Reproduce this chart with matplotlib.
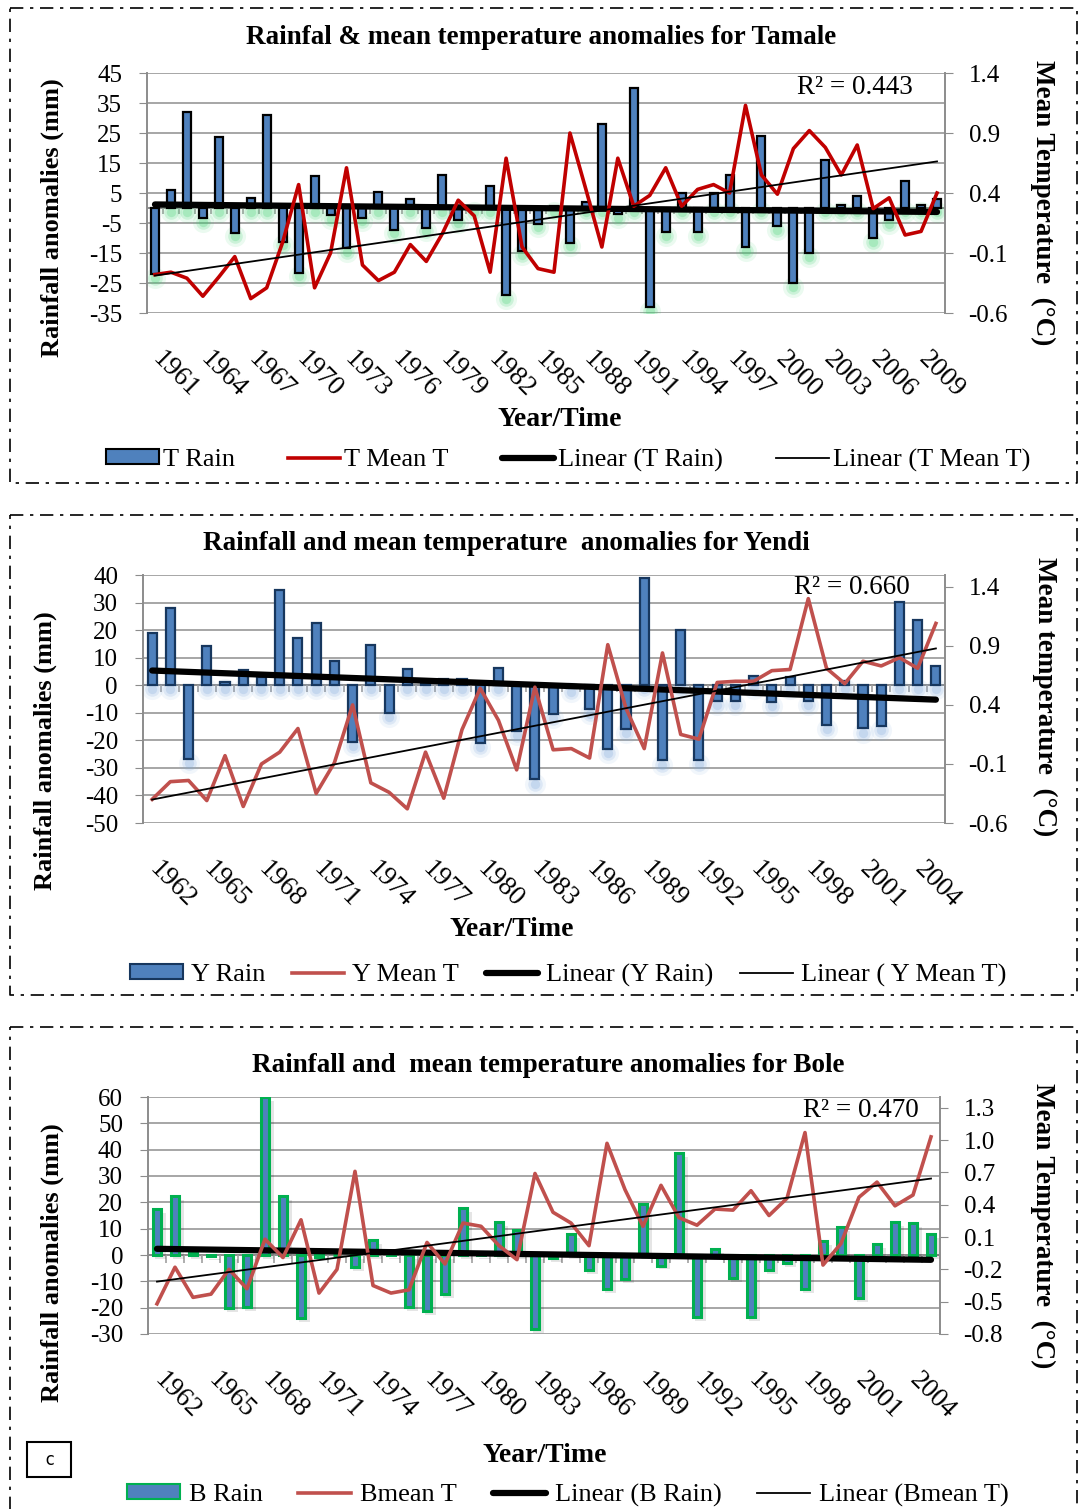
import numpy as np
import matplotlib
matplotlib.use("Agg")
import matplotlib.pyplot as plt
from matplotlib.lines import Line2D
from matplotlib.patches import Patch, Rectangle

plt.rcParams["font.family"] = ["Liberation Serif", "DejaVu Serif"]

W, H = 1078, 1509

# ---- data ----------------------------------------------------------------
tamale_years = list(range(1961, 2011))
tamale_rain = [-22, 6, 32, -3.4, 23.7, -8.2, 3.4, 31, -11.2, -21.6,
               10.7, -2.4, -13.4, -3.2, 5.3, -7.2, 3.1, -6.6, 10.9, -3.9,
               0.5, 7.3, -29, -14.3, -5.2, 0.8, -11.6, 2, 28, -2,
               40, -33, -8, 5, -8, 5, 11, -13, 24, -6,
               -25, -15, 16, 1, 4, -10, -4, 9, 1, 3]
tamale_temp = [-0.28, -0.26, -0.31, -0.46, -0.30, -0.13, -0.48, -0.39, -0.01, 0.47,
               -0.39, -0.10, 0.61, -0.20, -0.33, -0.26, -0.03, -0.17, 0.06, 0.34,
               0.21, -0.26, 0.69, -0.05, -0.23, -0.26, 0.90, 0.43, -0.05, 0.69,
               0.29, 0.38, 0.61, 0.29, 0.43, 0.47, 0.40, 1.13, 0.55, 0.39,
               0.77, 0.92, 0.78, 0.55, 0.80, 0.27, 0.36, 0.05, 0.08, 0.40]

yendi_years = list(range(1962, 2006))
yendi_rain = [19, 28, -26.7, 14.1, 1, 5.4, 3, 34.5, 17.2, 22.6,
              8.7, -20.6, 14.5, -10, 5.9, 0.5, 2.3, 2.3, -20.9, 6.3,
              -16.7, -34.2, -10.4, -1, -8.8, -23, -16, 39, -27.3, 20.2,
              -27, -5.8, -5.6, 3.3, -6.2, 2.9, -5.8, -14.5, 1.5, -15.7,
              -14.9, 30.2, 23.8, 6.9]
yendi_temp = [-0.40, -0.25, -0.24, -0.41, -0.03, -0.46, -0.10, 0.00, 0.20, -0.35,
              -0.09, 0.40, -0.26, -0.34, -0.48, 0.00, -0.39, 0.19, 0.54, 0.27,
              -0.15, 0.55, 0.02, 0.03, -0.05, 0.91, 0.37, 0.03, 0.84, 0.15,
              0.11, 0.59, 0.60, 0.60, 0.69, 0.70, 1.30, 0.71, 0.58, 0.77,
              0.73, 0.80, 0.71, 1.09]

bole_years = list(range(1962, 2006))
bole_rain = [17.5, 22.4, 1, -0.5, -20, -19.6, 60, 22.4, -23.8, -0.6,
             0, -4.7, 5.7, 0.4, -19.6, -21.1, -14.9, 17.7, 0.5, 12.4,
             9.5, -28.2, -1.3, 8, -5.7, -12.9, -9.1, 19.4, -4, 38.6,
             -23.4, 2.3, -8.6, -23.4, -5.8, -3.2, -12.9, 5.4, 10.8, -16.5,
             4.2, 12.7, 12.3, 8]
bole_temp = [-0.52, -0.18, -0.46, -0.43, -0.20, -0.38, 0.08, -0.09, 0.26, -0.42,
             -0.20, 0.71, -0.35, -0.42, -0.39, 0.05, -0.15, 0.23, 0.20, 0.02,
             -0.11, 0.69, 0.33, 0.23, 0.02, 0.97, 0.54, 0.20, 0.58, 0.28,
             0.21, 0.36, 0.35, 0.53, 0.30, 0.46, 1.07, -0.16, 0.04, 0.47,
             0.61, 0.39, 0.49, 1.03]

BLUE = "#4F81BD"
GRID = "#A6A6A6"


def px_axes(fig, x0, y0, x1, y1):
    """Axes placed by pixel box (top-left origin)."""
    return fig.add_axes([x0 / W, 1 - y1 / H, (x1 - x0) / W, (y1 - y0) / H])


def draw_panel(fig, box, years, rain, temp, p):
    ax = px_axes(fig, *box)
    x = np.arange(len(years))
    rain = np.asarray(rain, float)
    temp = np.asarray(temp, float)

    ax.set_xlim(-0.5, len(years) - 0.5)
    ax.set_ylim(*p["ylim"])
    yt = np.arange(p["ylim"][0], p["ylim"][1] + 0.1, 10)
    ax.set_yticks(yt, [f"{v:g}" for v in yt])
    ax.grid(axis="y", color=GRID, lw=1.4)
    ax.set_axisbelow(True)
    for s in ("top", "bottom", "right"):
        ax.spines[s].set_visible(False)
    ax.spines["left"].set_color("#8C8C8C")
    ax.spines["left"].set_linewidth(1.4)
    ax.tick_params(axis="y", length=6, color="#8C8C8C", labelsize=18, pad=12)

    # category axis at zero with small tick marks
    ax.axhline(0, color="#8C8C8C", lw=1.4, zorder=1)
    tick_len = p["ticklen"]
    ax.vlines(x[:-1] + 0.5, -tick_len, 0, color="#A0A0A0", lw=1.2, zorder=1)

    # glow / shadow under the bars
    if p["effect"] == "shadow":
        ax.bar(x + 0.2, rain, bottom=-1.5, width=0.6, color="k", alpha=0.10,
               lw=0, zorder=1)
    else:
        base = np.minimum(rain, 0) - tick_len * 0.6
        for s, a in [(230, 0.10), (110, 0.18), (45, 0.25)]:
            ax.scatter(x, base, s=s, color=p["glow"], alpha=a, lw=0, zorder=1)

    ax.bar(x, rain, width=p["barw"], color=BLUE, edgecolor=p["edge"],
           lw=p["edgelw"], zorder=2)

    # rain trend (left axis)
    k, b = np.polyfit(x, rain, 1)
    ax.plot(x, k * x + b, color="black", lw=4.5, solid_capstyle="round", zorder=3)

    ax.set_xticks(x[::3] - 0.45, [str(y) for y in years[::3]],
                  rotation=-45, ha="left", va="top", fontsize=19.5)
    ax.tick_params(axis="x", length=0, pad=p["xpad"])

    ax2 = ax.twinx()
    ax2.set_ylim(*p["ylim2"])
    rt = np.arange(p["ylim2"][0], p["rtop"] + 1e-6, p["rstep"])
    ax2.set_yticks(rt, [p["rfmt"].format(v) for v in rt])
    for s in ("top", "bottom", "left"):
        ax2.spines[s].set_visible(False)
    ax2.spines["right"].set_color("#8C8C8C")
    ax2.spines["right"].set_linewidth(1.4)
    ax2.tick_params(axis="y", length=6, color="#8C8C8C", labelsize=18, pad=11)
    ax2.plot(x, temp, color=p["red"], lw=2.6, zorder=3)
    k2, b2 = np.polyfit(x, temp, 1)
    ax2.plot(x, k2 * x + b2, color="black", lw=1.3, zorder=4)
    ax2.text(p["r2pos"][0], p["r2pos"][1], p["r2"], transform=ax2.transAxes,
             ha="right", va="center", fontsize=19.5)

    # texts around the panel (pixel placed)
    fig.text(p["title"][1] / W, 1 - p["title"][2] / H, p["title"][0],
             ha="center", va="center", fontsize=19.5, fontweight="bold")
    fig.text(p["ylab"][0] / W, 1 - p["ylab"][1] / H, "Rainfall anomalies (mm)",
             ha="center", va="center", rotation=90, fontsize=19,
             fontweight="bold")
    fig.text(p["rlab"][1] / W, 1 - p["rlab"][2] / H, p["rlab"][0],
             ha="center", va="center", rotation=-90, fontsize=19.5,
             fontweight="bold")
    fig.text(p["xlab"][0] / W, 1 - p["xlab"][1] / H, "Year/Time",
             ha="center", va="center", fontsize=20, fontweight="bold")

    handles = [
        Patch(facecolor=BLUE, edgecolor=p["edge"], lw=1.5),
        Line2D([], [], color=p["red"], lw=2.6),
        Line2D([], [], color="black", lw=4.5, solid_capstyle="round"),
        Line2D([], [], color="black", lw=1.3),
    ]
    fig.legend(handles, p["legend"], ncol=4, frameon=False, fontsize=19,
               loc="center", bbox_to_anchor=(p["legpos"][0] / W,
                                             1 - p["legpos"][1] / H),
               handlelength=2.0, handleheight=0.5,
               handletextpad=p["textpad"], columnspacing=p["colsp"])
    return ax, ax2


fig = plt.figure(figsize=(W / 100, H / 100), dpi=100)

draw_panel(fig, (147, 73, 945, 313), tamale_years, tamale_rain, tamale_temp, dict(
    ylim=(-35, 45), ylim2=(-0.6, 1.4), rtop=1.4, rstep=0.5, rfmt="{:.1f}",
    barw=0.5, edge="black", edgelw=1.6, effect="glow", glow="#3CD070",
    ticklen=2.0, red="#C00000", xpad=24,
    r2="R² = 0.443", r2pos=(0.959, 0.938),
    title=("Rainfal & mean temperature anomalies for Tamale", 541, 38),
    ylab=(52, 218), rlab=("Mean Temperature  (°C)", 1043, 203),
    xlab=(560, 420), legpos=(568, 460), textpad=0.15, colsp=2.0,
    legend=["T Rain", "T Mean T", "Linear (T Rain)", "Linear (T Mean T)"]))

draw_panel(fig, (143, 575, 945, 823), yendi_years, yendi_rain, yendi_temp, dict(
    ylim=(-50, 40), ylim2=(-0.6, 1.5), rtop=1.4, rstep=0.5, rfmt="{:.1f}",
    barw=0.5, edge="#17375E", edgelw=1.6, effect="glow", glow="#7FA8DC",
    ticklen=2.5, red="#C0504D", xpad=24,
    r2="R² = 0.660", r2pos=(0.956, 0.948),
    title=("Rainfall and mean temperature  anomalies for Yendi", 506, 543),
    ylab=(45, 751), rlab=("Mean temperature  (°C)", 1045, 697),
    xlab=(512, 930), legpos=(568, 975), textpad=0.3, colsp=1.0,
    legend=["Y Rain", "Y Mean T", "Linear (Y Rain)", "Linear ( Y Mean T)"]))

draw_panel(fig, (148, 1097, 940, 1334), bole_years, bole_rain, bole_temp, dict(
    ylim=(-30, 60), ylim2=(-0.8, 1.4), rtop=1.31, rstep=0.3, rfmt="{:.1f}",
    barw=0.45, edge="#00B050", edgelw=2.2, effect="shadow", glow=None,
    ticklen=3.0, red="#C0504D", xpad=24,
    r2="R² = 0.470", r2pos=(0.973, 0.945),
    title=("Rainfall and  mean temperature anomalies for Bole", 548, 1065),
    ylab=(52, 1263), rlab=("Mean Temperature  (°C)", 1043, 1226),
    xlab=(545, 1455), legpos=(568, 1495), textpad=0.35, colsp=1.35,
    legend=["B Rain", "Bmean T", "Linear (B Rain)", "Linear (Bmean T)"]))

# dash-dot frames around the three panels and the "c" tag
over = fig.add_axes([0, 0, 1, 1], zorder=-1)
over.set_xlim(0, W)
over.set_ylim(H, 0)
over.axis("off")
for top, bottom in [(8, 483), (515, 995), (1027, 1520)]:
    over.plot([10, W - 1, W - 1, 10, 10], [top, top, bottom, bottom, top],
              color="black", lw=1.2, ls=(0, (8, 4, 2, 4)))
over.add_patch(Rectangle((27, 1442), 44, 35, fill=False, lw=1.5, ec="black"))
over.text(49, 1460, "c", ha="center", va="center", fontsize=12,
          family="DejaVu Sans Mono")

fig.savefig("out.png", dpi=100)
